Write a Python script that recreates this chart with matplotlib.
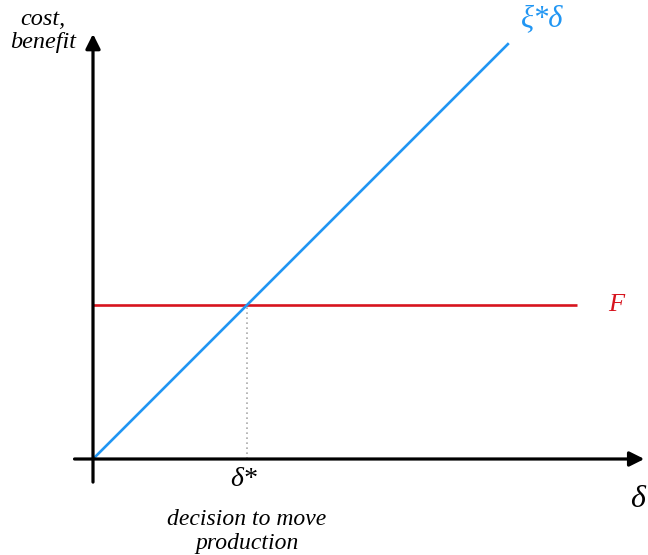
import matplotlib.pyplot as plt

# model values (abstract units)
xi = 1.0
F = 1.0
delta_star = F / xi
delta_line = [0.0, 2.7]
benefit_line = [xi * d for d in delta_line]
fixed_x = [0.0, 3.14]
fixed_y = [F, F]

BLUE = "#2196F3"
RED = "#D7141E"

plt.rcParams["font.family"] = ["Liberation Serif", "DejaVu Serif"]
plt.rcParams["font.style"] = "italic"

fig = plt.figure(figsize=(6.48, 5.55), dpi=100)
ax = fig.add_axes([0, 0, 1, 1])
ax.set_xlim(-93 / 154, 555 / 154)
ax.set_ylim(-96 / 154, 459 / 154)
ax.axis("off")

# axes with arrows
ax.annotate("", xy=(3.58, 0), xytext=(-0.12, 0),
            arrowprops=dict(arrowstyle="-|>", lw=2.3, color="black",
                            mutation_scale=22, shrinkA=0, shrinkB=0))
ax.annotate("", xy=(0, 2.76), xytext=(0, -0.15),
            arrowprops=dict(arrowstyle="-|>", lw=2.3, color="black",
                            mutation_scale=22, shrinkA=0, shrinkB=0))

ax.plot(fixed_x, fixed_y, color=RED, lw=1.9, solid_capstyle="butt")
ax.plot(delta_line, benefit_line, color=BLUE, lw=1.9, solid_capstyle="butt")
ax.plot([delta_star, delta_star], [0, F], color="#aaaaaa", lw=1.2,
        linestyle=(0, (1, 2)))

ax.text(-0.325, 2.78, "cost,\nbenefit", fontsize=17.5, ha="center",
        va="center", linespacing=1.15)
ax.text(2.78, 2.86, "ξ*δ", fontsize=22, color=BLUE, ha="left", va="center")
ax.text(3.40, F, "F", fontsize=19, color=RED, ha="center", va="center")
ax.text(delta_star - 0.02, -0.13, "δ*", fontsize=20, ha="center", va="center")
ax.text(delta_star, -0.47, "decision to move\nproduction", fontsize=17,
        ha="center", va="center", linespacing=1.15)
ax.text(3.535, -0.26, "δ", fontsize=23, ha="center", va="center")

fig.savefig("out.png", dpi=100)
plt.close(fig)
